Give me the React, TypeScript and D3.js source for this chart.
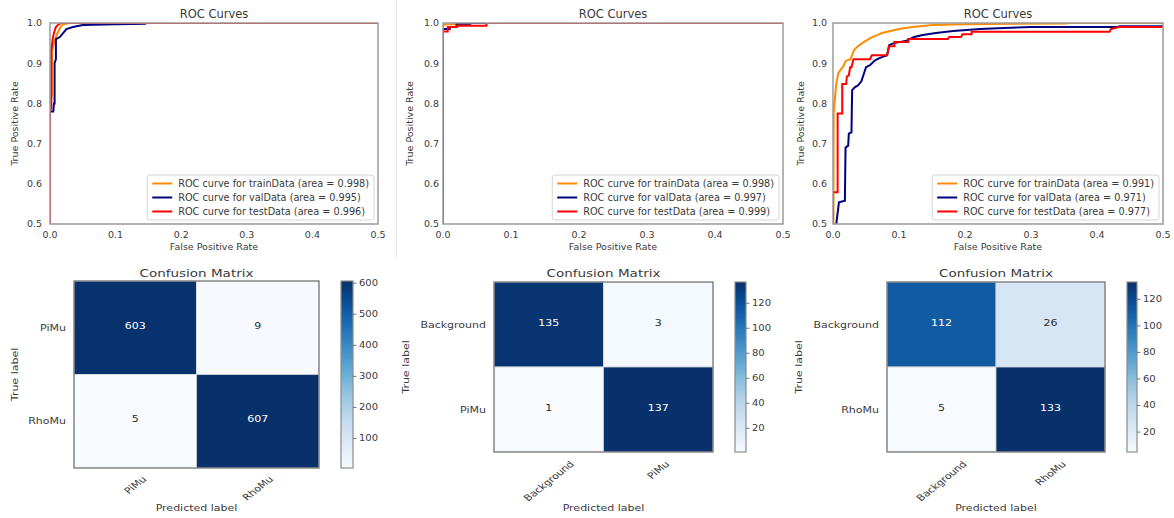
import React, { useEffect, useRef } from 'react';
import * as d3 from 'd3';

type Pt = [number, number];

// ROC axes
const fprTicks = [0, 0.1, 0.2, 0.3, 0.4, 0.5];
const tprTicks = [0.5, 0.6, 0.7, 0.8, 0.9, 1.0];
const seriesNames = ['trainData', 'valData', 'testData'];
const seriesColors = ['#ff8c00', '#000080', '#ff0000'];

// panel 1 curves (fpr, tpr)
const roc1Train: Pt[] = [[0, 0], [0, 0.8], [0.003, 0.82], [0.003, 0.93], [0.006, 0.95], [0.01, 0.97], [0.013, 0.98], [0.016, 0.99], [0.02, 0.997], [0.03, 1], [1, 1]];
const roc1Val: Pt[] = [[0, 0], [0, 0.78], [0.005, 0.78], [0.006, 0.8], [0.007, 0.8], [0.007, 0.9], [0.009, 0.91], [0.009, 0.96], [0.015, 0.965], [0.02, 0.975], [0.025, 0.985], [0.035, 0.99], [0.05, 0.995], [0.1, 0.997], [0.145, 0.998], [0.145, 1], [1, 1]];
const roc1Test: Pt[] = [[0, 0], [0, 0.78], [0.002, 0.79], [0.002, 0.93], [0.004, 0.96], [0.006, 0.975], [0.009, 0.99], [0.012, 0.995], [0.017, 1], [1, 1]];

// panel 2 curves
const roc2Train: Pt[] = [[0, 0], [0, 0.993], [0.003, 0.997], [0.038, 0.997], [0.038, 1], [1, 1]];
const roc2Val: Pt[] = [[0, 0], [0, 0.985], [0.01, 0.985], [0.01, 0.99], [0.02, 0.99], [0.02, 0.998], [0.04, 0.998], [0.04, 1], [1, 1]];
const roc2Test: Pt[] = [[0, 0], [0, 0.979], [0.007, 0.979], [0.007, 0.99], [0.02, 0.99], [0.02, 0.993], [0.064, 0.993], [0.064, 1], [1, 1]];

// panel 3 curves
const roc3Train: Pt[] = [[0, 0], [0.001, 0.775], [0.005, 0.85], [0.008, 0.875], [0.012, 0.885], [0.015, 0.89], [0.019, 0.905], [0.026, 0.91], [0.028, 0.915], [0.031, 0.93], [0.036, 0.94], [0.044, 0.95], [0.049, 0.955], [0.054, 0.96], [0.059, 0.965], [0.067, 0.97], [0.074, 0.975], [0.087, 0.98], [0.1, 0.985], [0.12, 0.99], [0.151, 0.995], [0.2, 0.997], [0.354, 0.999], [0.354, 1], [1, 1]];
const roc3Val: Pt[] = [[0, 0], [0, 0.45], [0.005, 0.45], [0.005, 0.5], [0.009, 0.554], [0.018, 0.558], [0.019, 0.69], [0.023, 0.695], [0.024, 0.725], [0.028, 0.728], [0.029, 0.833], [0.033, 0.84], [0.038, 0.845], [0.043, 0.855], [0.046, 0.87], [0.05, 0.89], [0.056, 0.895], [0.062, 0.905], [0.067, 0.91], [0.074, 0.915], [0.082, 0.92], [0.085, 0.945], [0.092, 0.95], [0.11, 0.955], [0.123, 0.965], [0.136, 0.97], [0.156, 0.975], [0.182, 0.98], [0.223, 0.985], [0.25, 0.987], [0.3, 0.99], [0.434, 0.99], [0.434, 0.992], [1, 0.992]];
const roc3Test: Pt[] = [[0, 0], [0, 0.579], [0.007, 0.579], [0.007, 0.775], [0.014, 0.775], [0.014, 0.848], [0.02, 0.848], [0.021, 0.867], [0.024, 0.87], [0.026, 0.89], [0.028, 0.89], [0.031, 0.91], [0.056, 0.91], [0.059, 0.92], [0.082, 0.92], [0.085, 0.942], [0.093, 0.942], [0.093, 0.953], [0.114, 0.953], [0.114, 0.96], [0.174, 0.96], [0.176, 0.965], [0.194, 0.965], [0.196, 0.972], [0.21, 0.972], [0.21, 0.978], [0.419, 0.978], [0.421, 0.985], [0.434, 0.99], [1, 0.99]];

const rocCurves: Pt[][][] = [
  [roc1Train, roc1Val, roc1Test],
  [roc2Train, roc2Val, roc2Test],
  [roc3Train, roc3Val, roc3Test],
];
const aucValues = [
  [0.998, 0.995, 0.996],
  [0.998, 0.997, 0.999],
  [0.991, 0.971, 0.977],
];

// confusion matrices
const cm1 = [[603, 9], [5, 607]];
const cm2 = [[135, 3], [1, 137]];
const cm3 = [[112, 26], [5, 133]];
const classes1 = ['PiMu', 'RhoMu'];
const classes2 = ['Background', 'PiMu'];
const classes3 = ['Background', 'RhoMu'];
const cbTicks1 = [100, 200, 300, 400, 500, 600];
const cbTicks2 = [20, 40, 60, 80, 100, 120];
const cbTicks3 = [20, 40, 60, 80, 100, 120];

// layout (pixel boxes of each panel)
const rocBoxes = [
  { left: 50, right: 378, top: 23, bottom: 224, pad: 8, ylabX: 15 },
  { left: 443, right: 783, top: 23, bottom: 224, pad: 4, ylabX: 410 },
  { left: 833, right: 1163, top: 23, bottom: 224, pad: 6, ylabX: 801 },
];
const cmBoxes = [
  { left: 74, right: 319, top: 281, bottom: 468, cbL: 341, cbR: 353, ylabX: 15, xtGap: 7 },
  { left: 494, right: 713, top: 282, bottom: 452, cbL: 735, cbR: 746, ylabX: 406, xtGap: 8 },
  { left: 887, right: 1105, top: 282, bottom: 452, cbL: 1127, cbR: 1137, ylabX: 799, xtGap: 8 },
];

const FONT = 'DejaVu Sans, Verdana, sans-serif';
const TXT = '#3a3a3a';
const SQUASH = 0.8; // the bottom screenshots are flattened vertically

export default function App() {
  const svgRef = useRef<SVGSVGElement>(null);

  useEffect(() => {
    if (!svgRef.current) return;
    const svg = d3.select(svgRef.current);
    svg.selectAll('*').remove();
    svg.append('rect').attr('width', 1174).attr('height', 518).attr('fill', '#fff');
    const defs = svg.append('defs');

    // faint edge of the middle screenshot
    svg.append('line').attr('x1', 396.5).attr('x2', 396.5).attr('y1', 0).attr('y2', 258)
      .attr('stroke', '#e6e6e6').attr('stroke-width', 1);

    // ---------- ROC panels ----------
    rocBoxes.forEach((b, pi) => {
      const x = d3.scaleLinear().domain([0, 0.5]).range([b.left, b.right]);
      const y = d3.scaleLinear().domain([0.5, 1]).range([b.bottom, b.top]);
      const g = svg.append('g').style('font-family', FONT);

      defs.append('clipPath').attr('id', `roc-clip-${pi}`)
        .append('rect').attr('x', b.left).attr('y', b.top)
        .attr('width', b.right - b.left).attr('height', b.bottom - b.top);

      const line = d3.line<Pt>().x(d => x(d[0])).y(d => y(d[1]));
      const curves = g.append('g').attr('clip-path', `url(#roc-clip-${pi})`);
      rocCurves[pi].forEach((pts, si) => {
        curves.append('path').datum(pts).attr('d', line)
          .attr('fill', 'none').attr('stroke', seriesColors[si]).attr('stroke-width', 2)
          .attr('stroke-linejoin', 'miter');
      });

      g.append('rect').attr('x', b.left).attr('y', b.top)
        .attr('width', b.right - b.left).attr('height', b.bottom - b.top)
        .attr('fill', 'none').attr('stroke', '#9a9a9a').attr('stroke-width', 1.5);

      fprTicks.forEach(t => {
        g.append('text').attr('x', x(t)).attr('y', 235).attr('dy', '0.35em')
          .attr('text-anchor', 'middle').style('font-size', '9.5px').attr('fill', TXT)
          .text(d3.format('.1f')(t));
      });
      tprTicks.forEach(t => {
        g.append('text').attr('x', b.left - b.pad).attr('y', y(t)).attr('dy', '0.35em')
          .attr('text-anchor', 'end').style('font-size', '9.5px').attr('fill', TXT)
          .text(d3.format('.1f')(t));
      });

      const cx = (b.left + b.right) / 2;
      g.append('text').attr('x', cx).attr('y', 14).attr('dy', '0.35em')
        .attr('text-anchor', 'middle').style('font-size', '11.5px').attr('fill', TXT)
        .text('ROC Curves');
      g.append('text').attr('x', cx).attr('y', 247).attr('dy', '0.35em')
        .attr('text-anchor', 'middle').style('font-size', '9.5px').attr('fill', TXT)
        .text('False Positive Rate');
      g.append('text').attr('transform', `translate(${b.ylabX},${(b.top + b.bottom) / 2}) rotate(-90)`)
        .attr('dy', '0.35em').attr('text-anchor', 'middle').style('font-size', '9.5px').attr('fill', TXT)
        .text('True Positive Rate');

      // legend
      const lg = g.append('g');
      const labels = seriesNames.map((n, i) => `ROC curve for ${n} (area = ${d3.format('.3f')(aucValues[pi][i])})`);
      const texts = labels.map((l, i) => lg.append('text').attr('y', i * 14).attr('dy', '0.35em')
        .style('font-size', '9.7px').attr('fill', TXT).text(l));
      const maxW = d3.max(texts, t => (t.node() as SVGTextElement).getComputedTextLength()) ?? 190;
      const boxW = maxW + 36;
      const boxH = 45;
      const bx = b.right - 4 - boxW;
      const by = b.bottom - 4 - boxH;
      lg.insert('rect', 'text').attr('x', bx).attr('y', by).attr('width', boxW).attr('height', boxH)
        .attr('rx', 2.5).attr('fill', 'rgba(255,255,255,0.85)').attr('stroke', '#d4d4d4').attr('stroke-width', 1);
      texts.forEach((t, i) => t.attr('x', bx + 31).attr('y', by + 8.5 + i * 14));
      seriesColors.forEach((c, i) => {
        lg.append('line').attr('x1', bx + 5).attr('x2', bx + 25)
          .attr('y1', by + 8.5 + i * 14).attr('y2', by + 8.5 + i * 14)
          .attr('stroke', c).attr('stroke-width', 2);
      });
    });

    // ---------- confusion matrices ----------
    const mats = [cm1, cm2, cm3];
    const classSets = [classes1, classes2, classes3];
    const cbTickSets = [cbTicks1, cbTicks2, cbTicks3];

    // text placed at (x, y) and flattened like the screenshot
    const flatText = (g: d3.Selection<SVGGElement, unknown, null, undefined>, x: number, y: number,
      str: string | number, size: number, anchor = 'middle', rot = 0, fill = TXT) =>
      g.append('text')
        .attr('transform', `translate(${x},${y}) scale(1,${SQUASH})${rot ? ` rotate(${rot})` : ''}`)
        .attr('dy', '0.35em').attr('text-anchor', anchor).style('font-size', `${size}px`)
        .attr('fill', fill).text(str);

    cmBoxes.forEach((b, pi) => {
      const m = mats[pi];
      const classes = classSets[pi];
      const flat = m.flat();
      const vmin = d3.min(flat) as number;
      const vmax = d3.max(flat) as number;
      const color = d3.scaleSequential(d3.interpolateBlues).domain([vmin, vmax]);
      const thresh = vmax / 2;
      const g = svg.append('g').style('font-family', FONT);

      const xb = d3.scaleBand<number>().domain(d3.range(classes.length)).range([b.left, b.right]);
      const yb = d3.scaleBand<number>().domain(d3.range(classes.length)).range([b.top, b.bottom]);

      m.forEach((row, i) => row.forEach((v, j) => {
        g.append('rect').attr('x', xb(j)!).attr('y', yb(i)!)
          .attr('width', xb.bandwidth()).attr('height', yb.bandwidth())
          .attr('fill', color(v)).attr('stroke', '#d8d8d8').attr('stroke-width', 0.8);
        flatText(g, xb(j)! + xb.bandwidth() / 2, yb(i)! + yb.bandwidth() / 2 - 2, v, 11, 'middle', 0,
          v > thresh ? '#ffffff' : '#2a2a2a');
      }));

      g.append('rect').attr('x', b.left).attr('y', b.top)
        .attr('width', b.right - b.left).attr('height', b.bottom - b.top)
        .attr('fill', 'none').attr('stroke', '#7a7a7a').attr('stroke-width', 1.3);

      // y tick labels
      classes.forEach((c, i) => {
        flatText(g, b.left - 8, yb(i)! + yb.bandwidth() / 2, c, 11, 'end');
      });
      // x tick labels, rotated 45 degrees, centred on tick
      classes.forEach((c, j) => {
        const t = flatText(g, 0, 0, c, 11, 'middle', -45);
        const w = (t.node() as SVGTextElement).getComputedTextLength();
        const h = 9;
        const cx = xb(j)! + xb.bandwidth() / 2;
        const cy = b.bottom + b.xtGap + SQUASH * (w + h) * Math.SQRT1_2 / 2;
        t.attr('transform', `translate(${cx},${cy}) scale(1,${SQUASH}) rotate(-45)`);
      });

      const mx = (b.left + b.right) / 2;
      flatText(g, mx, 273, 'Confusion Matrix', 13.5);
      flatText(g, mx, 508, 'Predicted label', 11);
      g.append('text').attr('transform', `translate(${b.ylabX},${(b.top + b.bottom) / 2}) scale(${SQUASH},1) rotate(-90)`)
        .attr('dy', '0.35em').attr('text-anchor', 'middle').style('font-size', '11px').attr('fill', TXT)
        .text('True label');

      // colorbar
      const gid = `cb-grad-${pi}`;
      const grad = defs.append('linearGradient').attr('id', gid)
        .attr('x1', 0).attr('y1', 1).attr('x2', 0).attr('y2', 0);
      d3.range(0, 1.0001, 0.05).forEach(s => {
        grad.append('stop').attr('offset', s).attr('stop-color', d3.interpolateBlues(s));
      });
      g.append('rect').attr('x', b.cbL).attr('y', b.top).attr('width', b.cbR - b.cbL)
        .attr('height', b.bottom - b.top).attr('fill', `url(#${gid})`)
        .attr('stroke', '#8a8a8a').attr('stroke-width', 1.2);
      const cy = d3.scaleLinear().domain([vmin, vmax]).range([b.bottom, b.top]);
      cbTickSets[pi].forEach(t => {
        g.append('line').attr('x1', b.cbR).attr('x2', b.cbR + 3.5).attr('y1', cy(t)).attr('y2', cy(t))
          .attr('stroke', '#555').attr('stroke-width', 0.8);
        flatText(g, b.cbR + 6, cy(t), t, 10, 'start');
      });
    });
  }, []);

  return (
    <svg ref={svgRef} width={1174} height={518}
      style={{ position: 'absolute', left: 0, top: 0, display: 'block' }} />
  );
}
